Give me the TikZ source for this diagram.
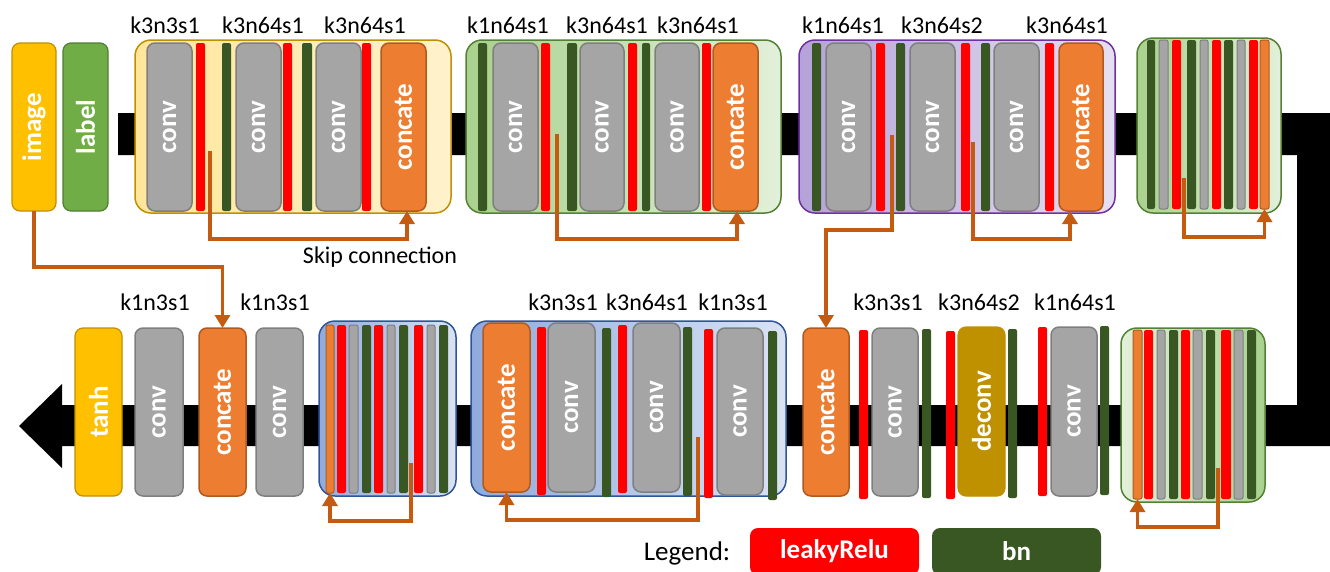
\documentclass[tikz,border=0pt]{standalone}
\usepackage{fontspec}
\usepackage{graphicx}
\setmainfont{Carlito}
\usetikzlibrary{arrows.meta}
\definecolor{cgray}{HTML}{A5A5A5}
\definecolor{cgrayd}{HTML}{7F7F7F}
\definecolor{cred}{HTML}{FF0000}
\definecolor{cdg}{HTML}{385723}
\definecolor{corange}{HTML}{ED7D31}
\definecolor{corangeD}{HTML}{AE5A21}
\definecolor{cyel}{HTML}{FFC000}
\definecolor{cyelD}{HTML}{BF9000}
\definecolor{clab}{HTML}{70AD47}
\definecolor{clabD}{HTML}{507E32}
\definecolor{cdeconv}{HTML}{BF9000}
\definecolor{carrow}{HTML}{C55A11}
\definecolor{yA}{HTML}{FFE699}
\definecolor{yB}{HTML}{FFF2CC}
\definecolor{yD}{HTML}{BF9000}
\definecolor{gA}{HTML}{A9D18E}
\definecolor{gB}{HTML}{E2F0D9}
\definecolor{gD}{HTML}{548235}
\definecolor{pA}{HTML}{B4A2D9}
\definecolor{pB}{HTML}{E6E0F2}
\definecolor{pD}{HTML}{7030A0}
\definecolor{bA}{HTML}{8FAADC}
\definecolor{bB}{HTML}{DAE3F3}
\definecolor{bD}{HTML}{2F5597}
\newcommand\vt[1]{\rotatebox{90}{#1}}
\newcommand\mybx[7]{\node[#1, minimum width={(#4)-(#3)}, minimum height={(#6)-(#5)}] (#2) at ({((#3)+(#4))/2},{((#5)+(#6))/2}) {#7};}
\tikzset{
  base/.style={rectangle, inner sep=0pt, outer sep=0pt, text=white, font=\fontsize{27}{30}\selectfont\bfseries},
  convbox/.style={base, fill=cgray, draw=cgrayd, line width=1.5pt, rounded corners=8pt},
  catbox/.style={base, fill=corange, draw=corangeD, line width=1.5pt, rounded corners=8pt},
  yelbox/.style={base, fill=cyel, draw=cyelD, line width=1.2pt, rounded corners=8pt},
  labbox/.style={base, fill=clab, draw=clabD, line width=1.2pt, rounded corners=8pt},
  decbox/.style={base, fill=cdeconv, draw=cdeconv, line width=1.2pt, rounded corners=8pt},
  rbar/.style={base, fill=cred, rounded corners=2pt},
  gbar/.style={base, fill=cdg, rounded corners=2pt},
  sgbar/.style={base, fill=cgray, draw=cgrayd, line width=1pt, rounded corners=2pt},
  obar/.style={base, fill=corange, draw=corangeD, line width=1pt, rounded corners=2pt},
  cont/.style={base, rounded corners=16pt, line width=1.5pt},
  klab/.style={font=\fontsize{24}{28}\selectfont, text=black, inner sep=0pt},
  skip/.style={draw=carrow, line width=3.5pt, -{Triangle[width=15pt,length=13pt]}},
  legbox/.style={base, rounded corners=8pt, font=\fontsize{27}{30}\selectfont\bfseries},
}
\begin{document}
\begin{tikzpicture}[x=1pt,y=-1pt]
\useasboundingbox (0,0) rectangle (1330,571);
% black main band
\fill[black] (118,113) -- (1340,113) -- (1340,446) -- (62,446) -- (62,468) -- (19,426) -- (62,384) -- (62,405) -- (1297,405) -- (1297,155) -- (118,155) -- cycle;

% ===== TOP ROW =====
\mybx{yelbox}{img}{12}{56}{43}{211}{\vt{image}}
\mybx{labbox}{lab}{63}{108}{43}{211}{\vt{label}}

% yellow container
\mybx{cont, left color=yA, right color=yB, draw=yD}{CY}{135}{451}{40}{213}{}
\mybx{convbox}{ya1}{147}{192}{43}{211}{\vt{conv}}
\mybx{rbar}{ya2}{196}{205}{43}{211}{}
\mybx{gbar}{ya3}{222}{231}{43}{211}{}
\mybx{convbox}{ya4}{236}{281}{43}{211}{\vt{conv}}
\mybx{rbar}{ya5}{283}{292}{43}{211}{}
\mybx{gbar}{ya6}{302}{312}{43}{211}{}
\mybx{convbox}{ya7}{316}{361}{43}{211}{\vt{conv}}
\mybx{rbar}{ya8}{362}{371}{43}{211}{}
\mybx{catbox}{cc1}{381}{426}{43}{211}{\vt{concate}}
\node[klab] (t1) at (165,25) {k3n3s1};
\node[klab] (t2) at (263,25) {k3n64s1};
\node[klab] (t3) at (365,25) {k3n64s1};

% green container 1
\mybx{cont, left color=gA, right color=gB, draw=gD}{CG1}{466}{781}{40}{213}{}
\mybx{gbar}{gb1}{478}{487}{43}{211}{}
\mybx{convbox}{gb2}{493}{538}{43}{211}{\vt{conv}}
\mybx{rbar}{gb3}{541}{550}{43}{211}{}
\mybx{gbar}{gb4}{567}{577}{43}{211}{}
\mybx{convbox}{gb5}{580}{624}{43}{211}{\vt{conv}}
\mybx{rbar}{gb6}{628}{637}{43}{211}{}
\mybx{gbar}{gb7}{642}{650}{43}{211}{}
\mybx{convbox}{gb8}{655}{699}{43}{211}{\vt{conv}}
\mybx{rbar}{gb9}{702}{711}{43}{211}{}
\mybx{catbox}{cc2}{713}{758}{43}{211}{\vt{concate}}
\node[klab] (t4) at (508,25) {k1n64s1};
\node[klab] (t5) at (607,25) {k3n64s1};
\node[klab] (t6) at (698,25) {k3n64s1};

% purple container
\mybx{cont, left color=pA, right color=pB, draw=pD}{CP}{799}{1115}{40}{213}{}
\mybx{gbar}{pc1}{812}{821}{43}{211}{}
\mybx{convbox}{pc2}{826}{871}{43}{211}{\vt{conv}}
\mybx{rbar}{pc3}{876}{885}{43}{211}{}
\mybx{gbar}{pc4}{896}{905}{43}{211}{}
\mybx{convbox}{pc5}{910}{955}{43}{211}{\vt{conv}}
\mybx{rbar}{pc6}{961}{970}{43}{211}{}
\mybx{gbar}{pc7}{981}{990}{43}{211}{}
\mybx{convbox}{pc8}{994}{1039}{43}{211}{\vt{conv}}
\mybx{rbar}{pc9}{1045}{1054}{43}{211}{}
\mybx{catbox}{cc3}{1059}{1103}{43}{211}{\vt{concate}}
\node[klab] (t7) at (843,25) {k1n64s1};
\node[klab] (t8) at (942,25) {k3n64s2};
\node[klab] (t9) at (1067,25) {k3n64s1};

% compact green container (top right)
\mybx{cont, left color=gA, right color=gB, draw=gD}{CG2}{1137}{1281}{38}{213}{}
\mybx{gbar}{q1}{1147}{1155}{40}{209}{}
\mybx{sgbar}{q2}{1159}{1168}{40}{209}{}
\mybx{rbar}{q3}{1172}{1181}{40}{209}{}
\mybx{gbar}{q4}{1187}{1196}{40}{209}{}
\mybx{sgbar}{q5}{1200}{1208}{40}{209}{}
\mybx{rbar}{q6}{1212}{1221}{40}{209}{}
\mybx{gbar}{q7}{1224}{1233}{40}{209}{}
\mybx{sgbar}{q8}{1237}{1245}{40}{209}{}
\mybx{rbar}{q9}{1249}{1258}{40}{209}{}
\mybx{obar}{q10}{1260}{1269}{40}{209}{}

% ===== BOTTOM ROW =====
\mybx{yelbox}{tanh}{75}{122}{328}{496}{\vt{tanh}}
\mybx{convbox}{bc1}{135}{183}{328}{496}{\vt{conv}}
\mybx{catbox}{cc4}{199}{246}{328}{496}{\vt{concate}}
\mybx{convbox}{bc2}{256}{303}{328}{496}{\vt{conv}}
\node[klab] (t10) at (155,302) {k1n3s1};
\node[klab] (t11) at (275,302) {k1n3s1};

% compact blue container
\mybx{cont, left color=bA, right color=bB, draw=bD}{CB1}{319}{456}{321}{496}{}
\mybx{obar}{u1}{326}{334}{325}{493}{}
\mybx{rbar}{u2}{337}{346}{325}{493}{}
\mybx{sgbar}{u3}{349}{358}{325}{493}{}
\mybx{gbar}{u4}{362}{371}{325}{493}{}
\mybx{rbar}{u5}{374}{383}{325}{493}{}
\mybx{sgbar}{u6}{387}{395}{325}{493}{}
\mybx{gbar}{u7}{399}{408}{325}{493}{}
\mybx{rbar}{u8}{414}{423}{325}{493}{}
\mybx{sgbar}{u9}{427}{435}{325}{493}{}
\mybx{gbar}{u10}{439}{448}{325}{493}{}

% blue container 2
\mybx{cont, left color=bA, right color=bB, draw=bD}{CB2}{471}{786}{321}{496}{}
\mybx{catbox}{cc5}{483}{530}{323}{492}{\vt{concate}}
\mybx{rbar}{v1}{537}{546}{327}{495}{}
\mybx{convbox}{v2}{548}{595}{323}{492}{\vt{conv}}
\mybx{gbar}{v3}{602}{611}{328}{497}{}
\mybx{rbar}{v4}{618}{627}{325}{493}{}
\mybx{convbox}{v5}{633}{680}{323}{492}{\vt{conv}}
\mybx{gbar}{v6}{683}{692}{327}{496}{}
\mybx{rbar}{v7}{704}{713}{329}{498}{}
\mybx{convbox}{v8}{717}{763}{328}{495}{\vt{conv}}
\mybx{gbar}{v9}{768}{777}{331}{500}{}
\node[klab] (t12) at (563,302) {k3n3s1};
\node[klab] (t13) at (647,302) {k3n64s1};
\node[klab] (t14) at (733,302) {k1n3s1};

% free-standing bottom elements
\mybx{catbox}{cc6}{803}{849}{328}{496}{\vt{concate}}
\mybx{rbar}{w1}{859}{868}{330}{499}{}
\mybx{convbox}{w2}{872}{918}{328}{496}{\vt{conv}}
\mybx{gbar}{w3}{922}{931}{329}{498}{}
\mybx{rbar}{w4}{946}{955}{331}{499}{}
\mybx{decbox}{w5}{958}{1005}{327}{496}{\vt{deconv}}
\mybx{gbar}{w6}{1008}{1017}{329}{498}{}
\mybx{rbar}{w7}{1038}{1047}{327}{496}{}
\mybx{convbox}{w8}{1051}{1097}{327}{496}{\vt{conv}}
\mybx{gbar}{w9}{1100}{1109}{326}{495}{}
\node[klab] (t15) at (888,302) {k3n3s1};
\node[klab] (t16) at (979,302) {k3n64s2};
\node[klab] (t17) at (1075,302) {k1n64s1};

% compact green container (bottom right)
\mybx{cont, left color=gB, right color=gA, draw=gD}{CG3}{1121}{1265}{328}{502}{}
\mybx{obar}{z1}{1133}{1142}{330}{499}{}
\mybx{rbar}{z2}{1144}{1153}{330}{499}{}
\mybx{sgbar}{z3}{1157}{1165}{330}{499}{}
\mybx{gbar}{z4}{1169}{1178}{330}{499}{}
\mybx{rbar}{z5}{1181}{1190}{330}{499}{}
\mybx{sgbar}{z6}{1193}{1202}{330}{499}{}
\mybx{gbar}{z7}{1206}{1215}{330}{499}{}
\mybx{rbar}{z8}{1221}{1231}{330}{499}{}
\mybx{sgbar}{z9}{1234}{1243}{330}{499}{}
\mybx{gbar}{z10}{1247}{1256}{330}{499}{}

% ===== SKIP CONNECTIONS =====
\coordinate (s1) at (210,151);
\coordinate (s2) at (557,134);
\coordinate (s3) at (973,142);
\coordinate (s4) at (892,135);
\coordinate (s5) at (1184,178);
\coordinate (s6) at (411,463);
\coordinate (s7) at (698,437);
\coordinate (s8) at (1218,468);
\draw[skip] (s1) -- ++(0,88) -| ([xshift=3.5pt]cc1.south);
\draw[skip] (s2) -- ++(0,105) -| ([xshift=1.5pt]cc2.south);
\draw[skip] (s3) -- ++(0,97) -| ([xshift=-11pt]cc3.south);
\draw[skip] (s4) -- ++(0,95) -| (cc6.north);
\draw[skip] (s5) -- ++(0,59) -| (q10.south);
\draw[skip] (s6) -- ++(0,58) -| (u1.south);
\draw[skip] (s7) -- ++(0,83) -| (cc5.south);
\draw[skip] (s8) -- ++(0,59) -| (z1.south);
\draw[skip] (img.south) -- ++(0,56) -| (cc4.north);
\node[klab] (skiptxt) at (380,257) {Skip connection};

% ===== LEGEND =====
\node[klab, font=\fontsize{27}{30}\selectfont] (legtxt) at (687,553) {Legend:};
\mybx{legbox, fill=cred}{leg1}{750}{919}{528}{575}{leakyRelu}
\mybx{legbox, fill=cdg}{leg2}{932}{1101}{528}{575}{bn}
\end{tikzpicture}
\end{document}
